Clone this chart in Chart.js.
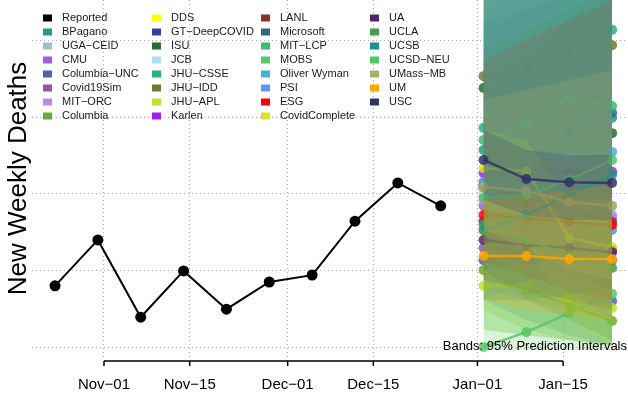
<!DOCTYPE html>
<html>
<head>
<meta charset="utf-8">
<script src="https://cdn.jsdelivr.net/npm/chart.js@4.4.1/dist/chart.umd.min.js"></script>
<style>
  html, body { margin: 0; padding: 0; background: #fff; }
  #wrap { width: 628px; height: 403px; }
</style>
</head>
<body>
<div id="wrap"><canvas id="chart" width="628" height="403"></canvas></div>
<script>
// reported weekly deaths
const reportedDates = ['2020-10-24', '2020-10-31', '2020-11-07', '2020-11-14', '2020-11-21',
                       '2020-11-28', '2020-12-05', '2020-12-12', '2020-12-19', '2020-12-26'];
const reportedDeaths = [11600, 12800, 10780, 11990, 10990, 11700, 11880, 13290, 14290, 13690];

// forecast target weeks
const forecastDates = ['2021-01-02', '2021-01-09', '2021-01-16', '2021-01-23'];

const models = ['BPagano', 'UGA\u2212CEID', 'CMU', 'Columbia\u2212UNC', 'Covid19Sim', 'MIT\u2212ORC', 'Columbia',
  'DDS', 'GT\u2212DeepCOVID', 'ISU', 'JCB', 'JHU\u2212CSSE', 'JHU\u2212IDD', 'JHU\u2212APL', 'Karlen',
  'LANL', 'Microsoft', 'MIT\u2212LCP', 'MOBS', 'Oliver Wyman', 'PSI', 'ESG', 'CovidComplete',
  'UA', 'UCLA', 'UCSB', 'UCSD\u2212NEU', 'UMass\u2212MB', 'UM', 'USC'];
const modelColors = ['#1f9e89', '#9ac3d2', '#a05fd9', '#4f63ad', '#8b5a9f', '#c089e6', '#6bab2d',
  '#ffff00', '#3b3f9a', '#2b6a34', '#ade0ee', '#27b184', '#6e7b2c', '#bde32a', '#a020f0',
  '#8b3224', '#2b6b8a', '#3bbb75', '#5ac864', '#4aaedb', '#6495ed', '#ff0000', '#dfe320',
  '#56216b', '#4b9a4a', '#20908c', '#52c569', '#a0b36a', '#ffa500', '#2f3268'];

// point forecasts, one row per model (same order as models)
const forecastMedian = [
  [15150, 15410, 15670, 15990], [13970, 13840, 13760, 13690], [13690, 13580, 13450, 13370],
  [12270, 11880, 11490, 11200], [12590, 12540, 12400, 12270], [13840, 13710, 13580, 13450],
  [12010, 11490, 11100, 10680], [13010, 12980, 13030, 13090], [13290, 13090, 12800, 12540],
  [16770, 16300, 15930, 15590], [14100, 13840, 13450, 13110], [15730, 17290, 17760, 18290],
  [17080, 17290, 17580, 17890], [11600, 11600, 11280, 11020], [14550, 14630, 14580, 14580],
  [14180, 13900, 13580, 13270], [14230, 14890, 15590, 16120], [15410, 15800, 16530, 16300],
  [10000, 10390, 10890, 11390], [14310, 14890, 15020, 15100], [14310, 14100, 13580, 13060],
  [13450, 13370, 13270, 13190], [14680, 14600, 12850, 12610], [12800, 12670, 12590, 12480],
  [13190, 12800, 12400, 12070], [13060, 13450, 13970, 14500], [13900, 13970, 14370, 14890],
  [14180, 14080, 13790, 13690], [12380, 12380, 12300, 12300], [14890, 14390, 14310, 14290]
];
// 95% interval bounds
const forecastLower = [
  [13060, 12800, 12540, 12270], [12800, 12270, 11750, 11490], [12800, 12410, 12010, 11620],
  [11230, 10710, 10310, 10050], [11490, 11230, 10970, 10710], [12540, 12010, 11490, 11230],
  [10970, 10450, 10180, 10050], [11750, 11490, 11230, 11100], [12010, 11490, 11230, 10710],
  [14890, 14100, 13320, 12540], [12540, 11750, 11230, 10710], [11230, 11750, 12010, 12270],
  [14890, 14630, 14370, 14100], [10450, 10310, 10180, 10050], [13320, 12800, 12540, 12270],
  [13060, 12540, 12010, 11490], [12010, 12140, 12270, 12410], [13060, 13060, 13060, 12800],
  [9920, 9920, 9920, 9920], [13060, 13320, 13320, 13320], [12800, 12270, 11490, 10710],
  [12270, 11880, 11490, 11230], [13060, 12800, 10710, 10050], [11750, 11490, 11230, 10970],
  [12010, 11230, 10710, 10180], [11230, 11230, 11360, 11490], [10450, 10310, 10180, 10050],
  [13060, 12540, 12010, 11750], [11230, 10970, 10840, 10710], [13840, 13450, 13320, 13320]
];
const forecastUpper = [
  [20120, 20640, 21160, 21690], [17500, 18030, 18550, 19070], [16720, 17240, 17760, 18290],
  [15150, 15410, 15670, 15940], [19590, 20120, 20640, 21160], [18550, 19070, 19590, 20120],
  [13060, 12930, 12800, 12670], [15150, 15410, 15670, 15940], [18290, 18810, 19330, 19860],
  [18550, 18810, 19070, 19590], [18030, 18550, 19070, 19590], [20380, 21690, 22990, 24300],
  [19070, 19590, 20120, 20640], [13060, 13190, 13060, 12930], [19330, 19860, 20380, 20900],
  [17760, 18290, 18810, 19330], [16460, 17500, 18550, 19590], [17500, 18290, 19070, 19860],
  [12010, 12800, 13840, 14890], [19590, 20120, 20640, 21160], [18810, 19330, 19860, 20380],
  [17500, 18030, 18550, 19070], [15670, 15410, 13840, 13840], [13580, 13450, 13320, 13190],
  [19860, 20120, 20380, 20640], [20120, 20640, 21160, 21690], [20380, 20640, 20900, 21160],
  [16460, 16720, 16980, 17240], [13840, 13970, 14100, 14230], [15670, 15150, 15020, 15020]
];

const tickDates = ['2020-11-01', '2020-11-15', '2020-12-01', '2020-12-15', '2021-01-01', '2021-01-15'];
const tickLabels = ['Nov\u221201', 'Nov\u221215', 'Dec\u221201', 'Dec\u221215', 'Jan\u221201', 'Jan\u221215'];
const yGridValues = [10000, 12000, 14000, 16000, 18000];

// days since Nov 1st
const origin = Date.parse('2020-11-01');
const day = s => Math.round((Date.parse(s) - origin) / 864e5);

function rgba(hex, a) {
  const n = parseInt(hex.slice(1), 16);
  return `rgba(${n >> 16},${(n >> 8) & 255},${n & 255},${a})`;
}

const datasets = [];
datasets.push({
  data: reportedDates.map((d, i) => ({x: day(d), y: reportedDeaths[i]})),
  borderColor: '#000', backgroundColor: '#000', borderWidth: 2,
  pointRadius: 5.5, pointBorderWidth: 0, order: 0
});
// each model: band, then its line; later models end up on top
const N = models.length;
models.forEach((m, i) => {
  const rank = N - 1 - i;
  datasets.push({
    data: forecastDates.map((d, j) => ({x: day(d), y: forecastMedian[i][j]})),
    borderColor: rgba(modelColors[i], 0.85), backgroundColor: rgba(modelColors[i], 0.85),
    borderWidth: 2.5, pointRadius: 5, pointBorderWidth: 0, order: 2 * rank + 1
  });
  datasets.push({
    data: forecastDates.map((d, j) => ({x: day(d), y: forecastUpper[i][j]})),
    fill: '+1', backgroundColor: rgba(modelColors[i], 0.22),
    borderWidth: 0, pointRadius: 0, order: 2 * rank + 2
  });
  datasets.push({
    data: forecastDates.map((d, j) => ({x: day(d), y: forecastLower[i][j]})),
    fill: false, borderWidth: 0, pointRadius: 0, order: 2 * rank + 2
  });
});

const decorations = {
  id: 'decorations',
  afterDraw(chart) {
    const {ctx, chartArea, scales: {x}} = chart;
    ctx.save();
    // R style axis: line from first to last tick
    const yAxis = chartArea.bottom + 4;
    ctx.strokeStyle = '#000';
    ctx.lineWidth = 1.5;
    ctx.beginPath();
    ctx.moveTo(x.getPixelForValue(day(tickDates[0])), yAxis);
    ctx.lineTo(x.getPixelForValue(day(tickDates[tickDates.length - 1])), yAxis);
    tickDates.forEach(d => {
      const px = x.getPixelForValue(day(d));
      ctx.moveTo(px, yAxis);
      ctx.lineTo(px, yAxis + 5);
    });
    ctx.stroke();

    // legend, 4 columns of 8
    const names = ['Reported', ...models];
    const cols = ['#000000', ...modelColors];
    ctx.font = '11px "Liberation Sans"';
    ctx.textAlign = 'left';
    ctx.textBaseline = 'middle';
    names.forEach((n, k) => {
      const lx = 43 + Math.floor(k / 8) * 109;
      const ly = 18 + (k % 8) * 14;
      ctx.fillStyle = cols[k];
      ctx.fillRect(lx, ly - 3.5, 9, 7);
      ctx.fillStyle = '#1a1a1a';
      ctx.fillText(n, lx + 19, ly);
    });

    ctx.font = '13px "Liberation Sans"';
    ctx.textAlign = 'right';
    ctx.textBaseline = 'alphabetic';
    ctx.fillStyle = '#000';
    ctx.fillText('Bands: 95% Prediction Intervals', chartArea.right - 1, chartArea.bottom - 7);
    ctx.restore();
  }
};

const gridStyle = {color: '#aaa', lineWidth: 1, drawTicks: false};

new Chart(document.getElementById('chart'), {
  type: 'line',
  data: {datasets},
  options: {
    responsive: false,
    animation: false,
    devicePixelRatio: 1,
    layout: {padding: 0, autoPadding: false},
    plugins: {legend: {display: false}, tooltip: {enabled: false}},
    scales: {
      x: {
        type: 'linear', min: -11.76, max: 85.6,
        afterBuildTicks: s => { s.ticks = tickDates.map(d => ({value: day(d)})); },
        afterFit: s => { s.height = 46; s.paddingLeft = 0; s.paddingRight = 0; },
        grid: gridStyle,
        border: {display: false, dash: [1, 3]},
        ticks: {
          autoSkip: false, maxRotation: 0, padding: 19, color: '#000',
          font: {family: 'Liberation Sans', size: 15},
          callback: (v, i) => tickLabels[i]
        }
      },
      y: {
        min: 9740, max: 19070,
        afterBuildTicks: s => { s.ticks = yGridValues.map(v => ({value: v})); },
        afterFit: s => { s.width = 32; s.paddingTop = 0; s.paddingBottom = 0; },
        grid: gridStyle,
        border: {display: false, dash: [1, 3]},
        ticks: {display: false},
        title: {
          display: true, text: 'New Weekly Deaths', color: '#000',
          font: {family: 'Liberation Sans', size: 26},
          padding: {top: 3, bottom: 0}
        }
      }
    }
  },
  plugins: [decorations]
});
</script>
</body>
</html>
